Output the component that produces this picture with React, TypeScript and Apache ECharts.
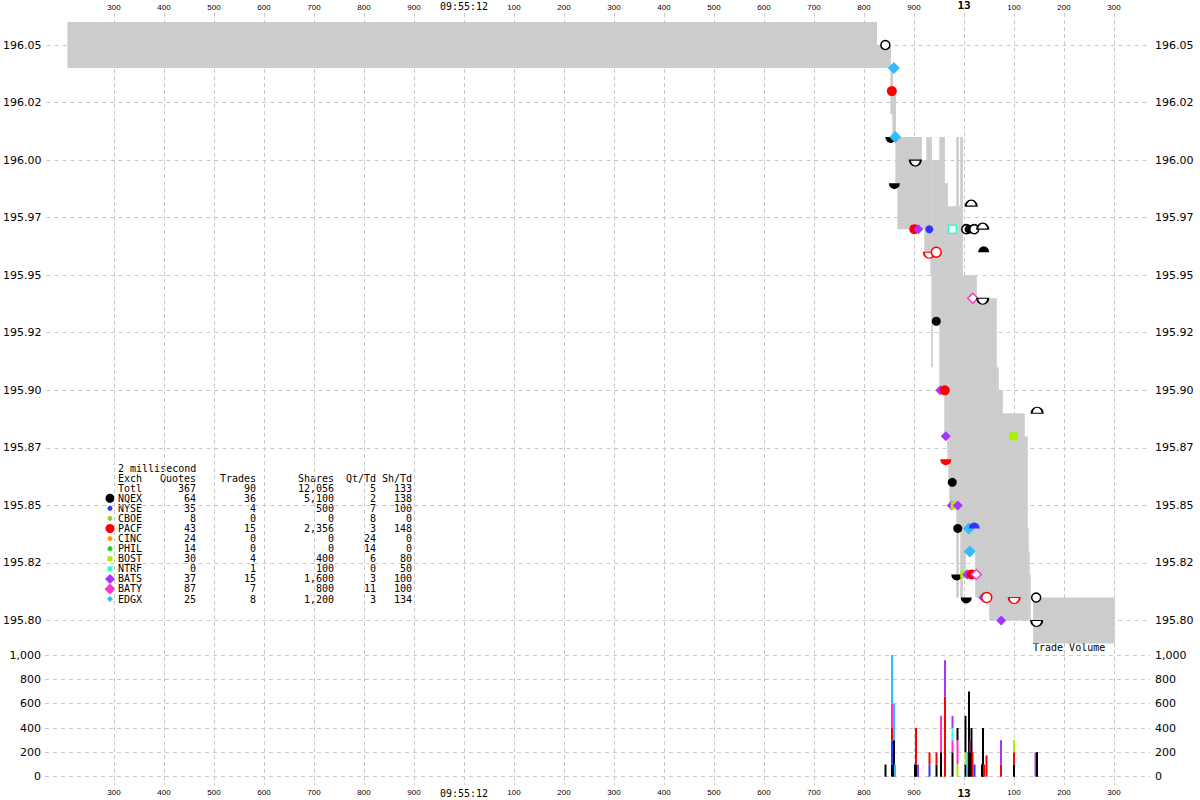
import React, { useEffect, useRef } from "react";
import * as echarts from "echarts";

// ---------- data ----------
// time = milliseconds after 09:55:11.000
const TIME_TICKS = [300, 400, 500, 600, 700, 800, 900, 1000, 1100, 1200, 1300, 1400, 1500, 1600, 1700, 1800, 1900, 2000, 2100, 2200, 2300];
const PRICE_TICKS = [195.8, 195.825, 195.85, 195.875, 195.9, 195.925, 195.95, 195.975, 196.0, 196.025, 196.05];
const VOLUME_TICKS = [0, 200, 400, 600, 800, 1000];

const EXCH = ["NQEX", "NYSE", "CBOE", "PACF", "CINC", "PHIL", "BOST", "NTRF", "BATS", "BATY", "EDGX"];
const QUOTES = [64, 35, 8, 43, 24, 14, 30, 0, 37, 87, 25];
const TRADES = [36, 4, 0, 15, 0, 0, 4, 1, 15, 7, 8];
const SHARES = [5100, 500, 0, 2356, 0, 0, 400, 100, 1600, 800, 1200];
const QT_TD = [2, 7, 8, 3, 24, 14, 6, 0, 3, 11, 3];
const SH_TD = [138, 100, 0, 148, 0, 0, 80, 50, 100, 100, 134];
const TOTAL_ROW = [367, 90, 12056, 5, 133];

// NBBO spread (grey band): start, end, bid, ask
const NBBO_START = [204, 1824, 1852, 1856, 1862, 1866, 1914, 1920, 1924, 1932, 1934, 1936, 1950, 1960, 1966, 1968, 1970, 1984, 1988, 1992, 1996, 2002, 2022, 2024, 2050, 2064, 2068, 2076, 2120, 2126, 2128, 2130, 2138];
const NBBO_END = [1824, 1852, 1856, 1862, 1866, 1914, 1920, 1924, 1932, 1934, 1936, 1950, 1960, 1966, 1968, 1970, 1984, 1988, 1992, 1996, 2002, 2022, 2024, 2050, 2064, 2068, 2076, 2120, 2126, 2128, 2130, 2132, 2300];
const NBBO_BID = [196.04, 196.04, 196.02, 196.01, 195.99, 195.97, 195.97, 195.96, 195.96, 195.95, 195.91, 195.93, 195.90, 195.88, 195.87, 195.86, 195.85, 195.81, 195.84, 195.81, 195.82, 195.83, 195.81, 195.81, 195.80, 195.80, 195.80, 195.80, 195.80, 195.80, 195.80, 195.80, 195.79];
const NBBO_ASK = [196.06, 196.05, 196.04, 196.03, 196.01, 196.01, 196.00, 196.00, 196.01, 196.01, 196.00, 196.00, 196.01, 195.99, 195.98, 195.98, 195.98, 196.01, 195.98, 196.01, 195.95, 195.95, 195.95, 195.94, 195.94, 195.91, 195.90, 195.89, 195.88, 195.84, 195.83, 195.82, 195.81];

// markers: T trade, H hollow trade, A ask quote, a hollow ask, B bid quote, b hollow bid
const MK_TIME = [1842, 1859, 1855, 1853, 1862, 1902, 1860, 2014, 1900, 1908, 1930, 1976, 2004, 2010, 2020, 2037, 1930, 1944, 2039, 2017, 2037, 1944, 1952, 1961, 2146, 1963, 2099, 1963, 1976, 1975, 1981, 1987, 1987, 2009, 2020, 2011, 1985, 2000, 2006, 2015, 2024, 2004, 2038, 2045, 2100, 2144, 2074, 2145];
const MK_PRICE = [196.05, 196.04, 196.03, 196.01, 196.01, 196.00, 195.99, 195.98, 195.97, 195.97, 195.97, 195.97, 195.97, 195.97, 195.97, 195.97, 195.96, 195.96, 195.96, 195.94, 195.94, 195.93, 195.90, 195.90, 195.89, 195.88, 195.88, 195.87, 195.86, 195.85, 195.85, 195.85, 195.84, 195.84, 195.84, 195.83, 195.82, 195.82, 195.82, 195.82, 195.82, 195.81, 195.81, 195.81, 195.81, 195.81, 195.80, 195.80];
const MK_EXCH = ["NQEX", "EDGX", "PACF", "NQEX", "EDGX", "NQEX", "NQEX", "NQEX", "PACF", "BATS", "NYSE", "NTRF", "NQEX", "NQEX", "NQEX", "NQEX", "PACF", "PACF", "NQEX", "BATY", "NQEX", "NQEX", "BATS", "PACF", "NQEX", "BATS", "BOST", "PACF", "NQEX", "BATS", "BOST", "BATS", "NQEX", "EDGX", "NYSE", "EDGX", "NQEX", "BOST", "BATS", "PACF", "BATY", "NQEX", "BATS", "PACF", "PACF", "NQEX", "BATS", "NQEX"];
const MK_KIND = ["H", "T", "T", "B", "T", "b", "B", "a", "T", "T", "T", "H", "H", "T", "H", "a", "b", "H", "A", "H", "b", "T", "T", "T", "a", "T", "T", "B", "T", "T", "T", "T", "T", "T", "A", "T", "B", "T", "T", "T", "H", "B", "T", "H", "b", "H", "T", "b"];

// trade volume bars: time and stacked parts [exchange, shares]
const VOL_TIME = [1843, 1856, 1860, 1862, 1902, 1904, 1908, 1931, 1945, 1954, 1962, 1977, 1987, 2003, 2007, 2010, 2013, 2015, 2017, 2021, 2036, 2038, 2040, 2045, 2074, 2100, 2143, 2146];
const VOL_PARTS: [string, number][][] = [
  [["NQEX", 100]],
  [["NQEX", 100], ["NYSE", 200], ["PACF", 100], ["BATY", 200], ["EDGX", 400]],
  [["NQEX", 300], ["EDGX", 300]],
  [["EDGX", 100]],
  [["NQEX", 100]],
  [["NQEX", 100], ["PACF", 300]],
  [["BATS", 100]],
  [["NYSE", 100], ["PACF", 100]],
  [["NQEX", 100], ["PACF", 100]],
  [["NQEX", 200], ["BATY", 300]],
  [["PACF", 656], ["BATS", 300]],
  [["NQEX", 200], ["BATY", 100], ["NTRF", 100], ["BATS", 100]],
  [["BOST", 100], ["BATY", 200], ["NQEX", 100]],
  [["NQEX", 100], ["BOST", 100], ["NQEX", 300]],
  [["EDGX", 200]],
  [["NQEX", 700]],
  [["NQEX", 200], ["BATY", 100]],
  [["NQEX", 400]],
  [["PACF", 200]],
  [["NYSE", 100]],
  [["NQEX", 100]],
  [["NQEX", 400]],
  [["PACF", 100]],
  [["PACF", 175]],
  [["PACF", 100], ["BATS", 200]],
  [["NQEX", 100], ["PACF", 100], ["BOST", 100]],
  [["BATS", 200]],
  [["NQEX", 200]],
];

// ---------- styles ----------
const COLORS: Record<string, string> = {
  NQEX: "#000000", NYSE: "#3333ff", CBOE: "#99cc33", PACF: "#ff0000", CINC: "#ff9900", PHIL: "#22cc22",
  BOST: "#aaee00", NTRF: "#33ffcc", BATS: "#aa33ff", BATY: "#ff33cc", EDGX: "#33bbff",
};
const SHAPE: Record<string, string> = {
  NQEX: "circle", NYSE: "circle", CBOE: "circle", PACF: "circle", CINC: "circle", PHIL: "circle",
  BOST: "rect", NTRF: "rect", BATS: "diamond", BATY: "diamond", EDGX: "diamond",
};
const TRADE_SIZE: Record<string, number> = {
  NQEX: 9, NYSE: 8, CBOE: 6, PACF: 10, CINC: 6, PHIL: 6, BOST: 8, NTRF: 8, BATS: 10, BATY: 10, EDGX: 12,
};
const LEG_SIZE: Record<string, number> = {
  NQEX: 9, NYSE: 5, CBOE: 5, PACF: 9, CINC: 5, PHIL: 5, BOST: 5, NTRF: 5, BATS: 10, BATY: 11, EDGX: 6,
};
const DOME = "path://M0,10 A10,10 0 0 1 20,10 Z";
const BOWL = "path://M0,0 A10,10 0 0 0 20,0 Z";
const GRID_COLOR = "#c8c8c8";
const X_MIN = 162;
const X_MAX = 2372;
const MONO = '"DejaVu Sans Mono", monospace';

function priceLabel(v: number) {
  return (Math.floor(v * 100 + 1e-6) / 100).toFixed(2);
}
function timeLabel(v: number) {
  if (v === 1000) return "{t|09:55:12}";
  if (v === 2000) return "{b|13}";
  return "{s|" + (v % 1000) + "}";
}
const timeRich = {
  s: { fontSize: 8, fontFamily: "Liberation Sans", color: "#000" },
  t: { fontSize: 10, fontFamily: MONO, color: "#000" },
  b: { fontSize: 11, fontFamily: MONO, fontWeight: "bold", color: "#000" },
};

function buildGraphic() {
  const els: any[] = [];
  const rowY = (i: number) => 468 + i * 10.08;
  const nameX = 118;
  const colX = [196, 256, 334, 376, 412];
  const font = "10px " + MONO;
  const txt = (s: string, x: number, y: number, align: string) => ({
    type: "text", x, y, silent: true,
    style: { text: s, font, fill: "#000", align, verticalAlign: "middle" },
  });
  els.push(txt("2 millisecond", nameX, rowY(0), "left"));
  els.push(txt("Exch", nameX, rowY(1), "left"));
  ["Quotes", "Trades", "Shares", "Qt/Td", "Sh/Td"].forEach((h, j) => els.push(txt(h, colX[j], rowY(1), "right")));
  els.push(txt("Totl", nameX, rowY(2), "left"));
  TOTAL_ROW.forEach((v, j) => els.push(txt(v.toLocaleString("en-US"), colX[j], rowY(2), "right")));
  EXCH.forEach((ex, i) => {
    const y = rowY(3 + i);
    els.push(txt(ex, nameX, y, "left"));
    [QUOTES[i], TRADES[i], SHARES[i], QT_TD[i], SH_TD[i]].forEach((v, j) =>
      els.push(txt(v.toLocaleString("en-US"), colX[j], y, "right"))
    );
    const s = LEG_SIZE[ex];
    const cx = 110;
    const fill = COLORS[ex];
    if (SHAPE[ex] === "circle") {
      els.push({ type: "circle", silent: true, shape: { cx, cy: y, r: s / 2 }, style: { fill } });
    } else if (SHAPE[ex] === "rect") {
      els.push({ type: "rect", silent: true, shape: { x: cx - s / 2, y: y - s / 2, width: s, height: s }, style: { fill } });
    } else {
      const h = s / 2;
      els.push({
        type: "polygon", silent: true,
        shape: { points: [[cx, y - h], [cx + h, y], [cx, y + h], [cx - h, y]] },
        style: { fill },
      });
    }
  });
  els.push(txt("Trade Volume", 1033, 647, "left"));
  return els;
}

export default function App() {
  const ref = useRef<HTMLDivElement>(null);
  useEffect(() => {
    if (!ref.current) return;
    const chart = echarts.init(ref.current, undefined, { renderer: "svg" });

    const nbboData = NBBO_START.map((s, i) => [s, NBBO_END[i], NBBO_BID[i], NBBO_ASK[i]]);

    const markerData = MK_TIME.map((t, i) => {
      const ex = MK_EXCH[i];
      const k = MK_KIND[i];
      const c = COLORS[ex];
      const hollow = k === "H" || k === "a" || k === "b";
      const style = hollow
        ? { color: "#ffffff", borderColor: c, borderWidth: 1.5, opacity: 1 }
        : { color: c, borderWidth: 0, opacity: 1 };
      if (k === "A" || k === "a") {
        return { value: [t, MK_PRICE[i]], symbol: DOME, symbolSize: [11, 6], symbolOffset: [0, -3], itemStyle: style };
      }
      if (k === "B" || k === "b") {
        return { value: [t, MK_PRICE[i]], symbol: BOWL, symbolSize: [11, 6], symbolOffset: [0, 3], itemStyle: style };
      }
      return { value: [t, MK_PRICE[i]], symbol: SHAPE[ex], symbolSize: TRADE_SIZE[ex], itemStyle: style };
    });

    const volData: number[][] = [];
    VOL_TIME.forEach((t, i) => {
      let base = 0;
      VOL_PARTS[i].forEach(([ex, n]) => {
        volData.push([t, base, base + n, EXCH.indexOf(ex)]);
        base += n;
      });
    });

    const hiddenX = { type: "value", min: X_MIN, max: X_MAX, show: false };
    const labelStyle = { color: "#000", fontSize: 11, fontFamily: "DejaVu Sans" };

    chart.setOption({
      animation: false,
      backgroundColor: "#ffffff",
      grid: [
        { left: 45, right: 50, top: 12, bottom: 15, containLabel: false },
        { left: 45, right: 50, top: 22, height: 621.5, containLabel: false },
        { left: 45, right: 50, top: 655, height: 121.7, containLabel: false },
      ],
      xAxis: [
        {
          type: "value", gridIndex: 0, position: "top", min: X_MIN, max: X_MAX,
          axisLine: { show: false },
          axisTick: { show: false, customValues: TIME_TICKS },
          axisLabel: { customValues: TIME_TICKS, formatter: timeLabel, rich: timeRich, margin: 2 },
          splitLine: { show: true, lineStyle: { color: GRID_COLOR, type: [4, 3], width: 1 } },
        },
        {
          type: "value", gridIndex: 0, position: "bottom", min: X_MIN, max: X_MAX,
          axisLine: { show: false },
          axisTick: { show: false, customValues: TIME_TICKS },
          axisLabel: { customValues: TIME_TICKS, formatter: timeLabel, rich: timeRich, margin: 3 },
          splitLine: { show: false },
        },
        { ...hiddenX, gridIndex: 1 },
        { ...hiddenX, gridIndex: 2 },
      ],
      yAxis: [
        { type: "value", gridIndex: 0, min: 0, max: 1, show: false },
        {
          type: "value", gridIndex: 1, position: "left", min: 195.79, max: 196.06,
          axisLine: { show: false },
          axisTick: { show: false, customValues: PRICE_TICKS },
          axisLabel: { customValues: PRICE_TICKS, formatter: priceLabel, margin: 5, ...labelStyle },
          splitLine: { show: true, lineStyle: { color: GRID_COLOR, type: [4, 4], width: 1 } },
        },
        {
          type: "value", gridIndex: 1, position: "right", min: 195.79, max: 196.06,
          axisLine: { show: false },
          axisTick: { show: false, customValues: PRICE_TICKS },
          axisLabel: { customValues: PRICE_TICKS, formatter: priceLabel, margin: 5, ...labelStyle },
          splitLine: { show: false },
        },
        {
          type: "value", gridIndex: 2, position: "left", min: 0, max: 1000, interval: 200,
          axisLine: { show: false },
          axisTick: { show: false, customValues: VOLUME_TICKS },
          axisLabel: { customValues: VOLUME_TICKS, formatter: (v: number) => v.toLocaleString("en-US"), margin: 4, ...labelStyle },
          splitLine: { show: true, lineStyle: { color: GRID_COLOR, type: [4, 4], width: 1 } },
        },
        {
          type: "value", gridIndex: 2, position: "right", min: 0, max: 1000, interval: 200,
          axisLine: { show: false },
          axisTick: { show: false, customValues: VOLUME_TICKS },
          axisLabel: { customValues: VOLUME_TICKS, formatter: (v: number) => v.toLocaleString("en-US"), margin: 5, ...labelStyle },
          splitLine: { show: false },
        },
      ],
      series: [
        {
          type: "custom", name: "NBBO", xAxisIndex: 2, yAxisIndex: 1, silent: true, z: 1,
          data: nbboData,
          encode: { x: [0, 1], y: [2, 3] },
          renderItem: (params: any, api: any) => {
            const p0 = api.coord([api.value(0), api.value(3)]);
            const p1 = api.coord([api.value(1), api.value(2)]);
            return {
              type: "rect",
              shape: { x: p0[0], y: p0[1], width: p1[0] - p0[0] + 0.6, height: p1[1] - p0[1] },
              style: { fill: "#cccccc" },
            };
          },
        },
        {
          type: "scatter", name: "Quotes & Trades", xAxisIndex: 2, yAxisIndex: 1, silent: true, z: 3,
          itemStyle: { opacity: 1 },
          data: markerData,
        },
        {
          type: "custom", name: "Trade Volume", xAxisIndex: 3, yAxisIndex: 3, silent: true, z: 2,
          data: volData,
          encode: { x: 0, y: [1, 2] },
          renderItem: (params: any, api: any) => {
            const a = api.coord([api.value(0), api.value(1)]);
            const b = api.coord([api.value(0), api.value(2)]);
            return {
              type: "rect",
              shape: { x: a[0] - 1, y: b[1], width: 2, height: a[1] - b[1] },
              style: { fill: COLORS[EXCH[api.value(3)]] },
            };
          },
        },
      ],
      graphic: buildGraphic(),
    });
    return () => chart.dispose();
  }, []);
  return (
    <div
      ref={ref}
      style={{ position: "fixed", left: 0, top: 0, width: 1200, height: 800, background: "#fff" }}
    />
  );
}
